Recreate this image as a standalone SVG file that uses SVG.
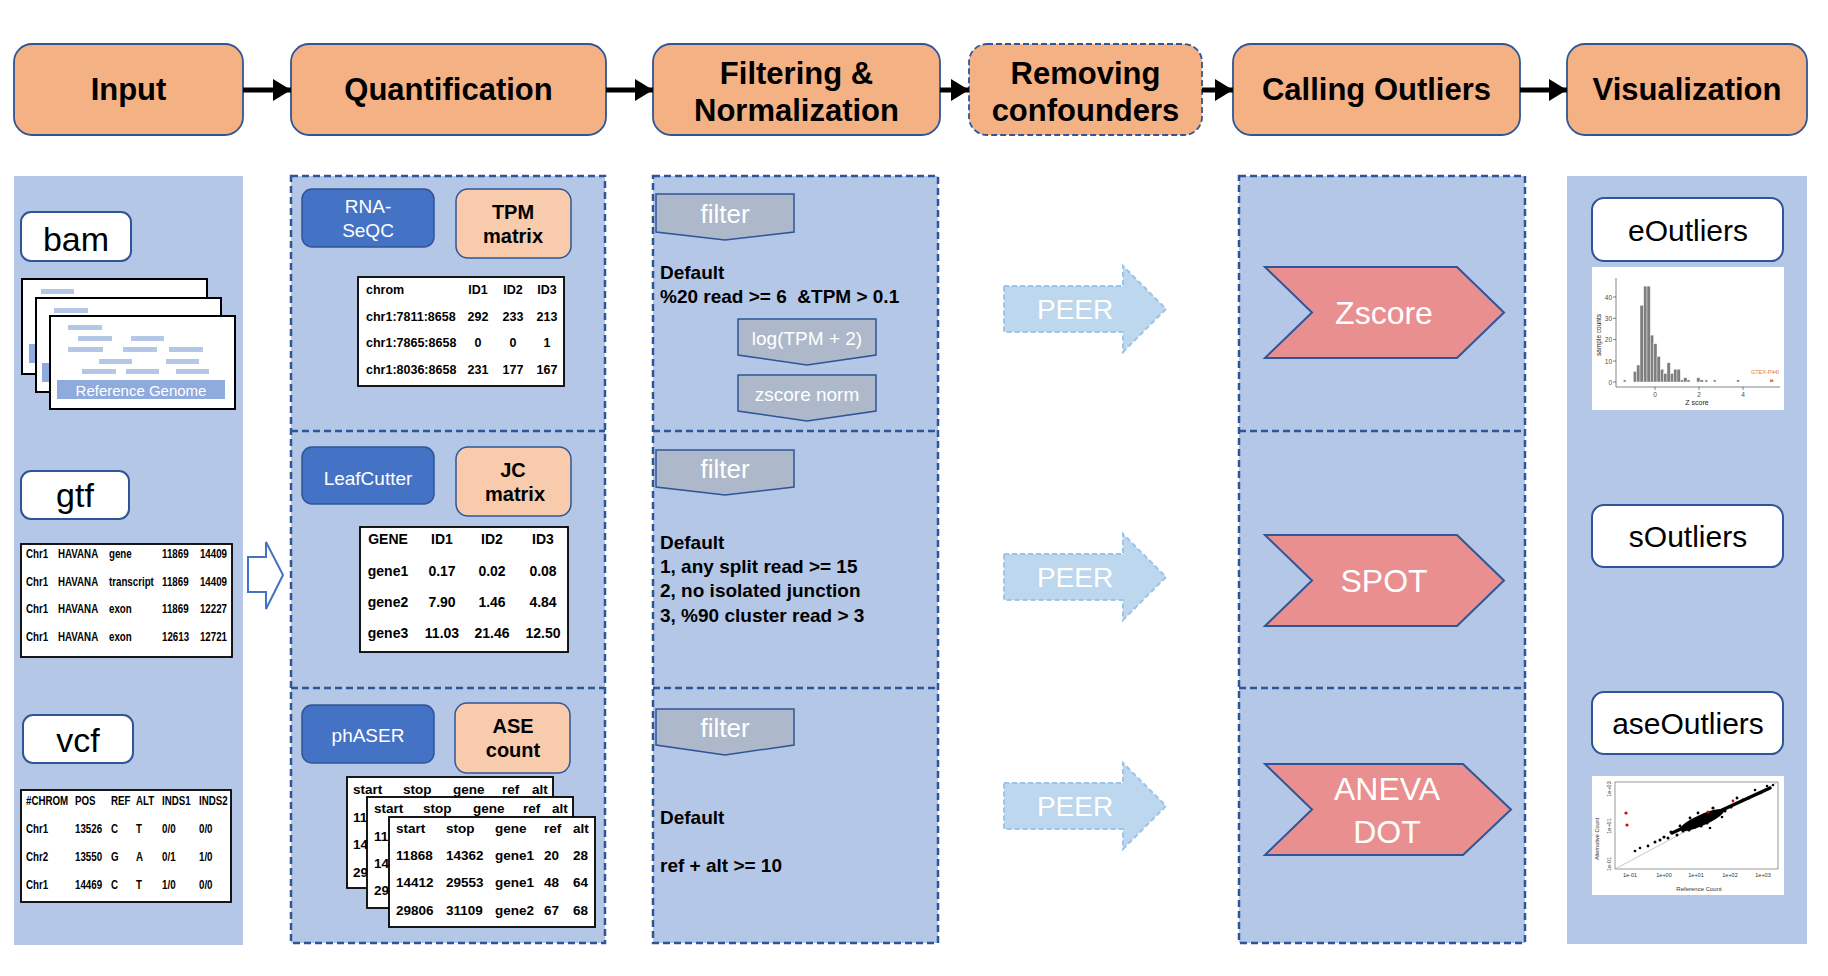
<svg xmlns="http://www.w3.org/2000/svg" width="1828" height="976" viewBox="0 0 1828 976">
<style>
  text { font-family: "Liberation Sans", Arial, sans-serif; }
  .hdr { fill: #F4B183; stroke: #2F5597; stroke-width: 1.8; }
  .hdrt { font-size: 31px; font-weight: bold; fill: #000; text-anchor: middle; }
  .bg { fill: #B4C7E7; }
  .dash { fill: #B4C7E7; stroke: #2F5597; stroke-width: 2.5; stroke-dasharray: 7 4; }
  .dl { stroke: #2F5597; stroke-width: 2.5; stroke-dasharray: 7 4; fill: none; }
  .lbl { fill: #fff; stroke: #2F5597; stroke-width: 2; }
  .lblt { font-size: 34px; fill: #000; text-anchor: middle; }
  .vlt { font-size: 30px; fill: #000; text-anchor: middle; }
  .sheet { fill: #fff; stroke: #000; stroke-width: 2; }
  .bar { fill: #B4C7E7; }
  .tbl { fill: #fff; stroke: #000; stroke-width: 1.8; }
  .tt { font-weight: bold; fill: #000; }
  .tool { fill: #4472C4; stroke: #2F5597; stroke-width: 1.5; }
  .toolt { font-size: 19px; fill: #fff; text-anchor: middle; }
  .mat { fill: #F8CBAD; stroke: #2F5597; stroke-width: 1.5; }
  .matt { font-size: 20px; font-weight: bold; fill: #000; text-anchor: middle; }
  .flt { fill: #ADB9CA; stroke: #2F5597; stroke-width: 1.5; }
  .fltt { fill: #fff; text-anchor: middle; }
  .def { font-size: 19px; font-weight: bold; fill: #000; }
  .peer { fill: #BDD7EE; stroke: #9DC3E6; stroke-width: 2; stroke-dasharray: 5 3; }
  .peert { font-size: 28px; fill: #fff; text-anchor: middle; }
  .chev { fill: #EA8F8F; stroke: #2F5597; stroke-width: 2; }
  .chevt { font-size: 32px; fill: #fff; text-anchor: middle; }
  .hb { fill: #7F7F7F; stroke: #fff; stroke-width: 0.4; }
  .ax { stroke: #333; stroke-width: 0.6; fill: none; }
  .tk { font-size: 6.5px; fill: #4D4D4D; }
  .dot { fill: #000; }
  .arr { stroke: #000; stroke-width: 5; fill: none; }
</style>
<defs>
  <marker id="ah" markerUnits="userSpaceOnUse" markerWidth="18" markerHeight="22" refX="18" refY="11" orient="auto">
    <path d="M0,0 L18,11 L0,22 Z" fill="#000"/>
  </marker>
</defs>

<!-- Header nodes -->
<g id="hdr-input">
  <rect class="hdr" x="14" y="44" width="229" height="91" rx="18"/>
  <text class="hdrt" x="128.5" y="100">Input</text>
</g>
<g id="hdr-quant">
  <rect class="hdr" x="291" y="44" width="315" height="91" rx="18"/>
  <text class="hdrt" x="448.5" y="100">Quantification</text>
</g>
<g id="hdr-filter">
  <rect class="hdr" x="653" y="44" width="287" height="91" rx="18"/>
  <text class="hdrt" x="796.5" y="84">Filtering &amp;</text>
  <text class="hdrt" x="796.5" y="121">Normalization</text>
</g>
<g id="hdr-remove">
  <rect class="hdr" x="969" y="44" width="233" height="91" rx="18" stroke-dasharray="6 3"/>
  <text class="hdrt" x="1085.5" y="84">Removing</text>
  <text class="hdrt" x="1085.5" y="121">confounders</text>
</g>
<g id="hdr-calling">
  <rect class="hdr" x="1233" y="44" width="287" height="91" rx="18"/>
  <text class="hdrt" x="1376.5" y="100">Calling Outliers</text>
</g>
<g id="hdr-vis">
  <rect class="hdr" x="1567" y="44" width="240" height="91" rx="18"/>
  <text class="hdrt" x="1687" y="100">Visualization</text>
</g>

<!-- Connectors -->
<g id="connectors">
  <line class="arr" x1="243" y1="90" x2="291" y2="90" marker-end="url(#ah)"/>
  <line class="arr" x1="606" y1="90" x2="653" y2="90" marker-end="url(#ah)"/>
  <line class="arr" x1="940" y1="90" x2="969" y2="90" marker-end="url(#ah)"/>
  <line class="arr" x1="1202" y1="90" x2="1233" y2="90" marker-end="url(#ah)"/>
  <line class="arr" x1="1520" y1="90" x2="1567" y2="90" marker-end="url(#ah)"/>
  <path d="M248,557 H266 V542 L283,575 L266,609 V592 H248 Z" fill="#fff" stroke="#4472C4" stroke-width="2"/>
</g>

<!-- Input column -->
<g id="col-input">
  <rect class="bg" x="14" y="176" width="229" height="769"/>
  <g id="bam">
    <rect class="lbl" x="21" y="212" width="110" height="49" rx="10"/>
    <text class="lblt" x="76" y="251">bam</text>
    <rect class="sheet" x="22" y="279" width="185" height="95"/>
    <rect class="bar" x="41" y="289" width="33" height="5"/>
    <rect fill="#8FAADC" x="29" y="344" width="170" height="19"/>
    <rect class="sheet" x="36" y="298" width="185" height="94"/>
    <rect class="bar" x="54" y="308" width="34" height="5"/>
    <rect fill="#8FAADC" x="42" y="363" width="170" height="19"/>
    <rect class="sheet" x="50" y="316" width="185" height="93"/>
    <rect class="bar" x="68" y="325" width="34" height="5"/>
    <rect class="bar" x="78" y="336" width="34" height="5"/>
    <rect class="bar" x="131" y="336" width="33" height="5"/>
    <rect class="bar" x="68" y="347" width="35" height="5"/>
    <rect class="bar" x="123" y="347" width="34" height="5"/>
    <rect class="bar" x="169" y="347" width="34" height="5"/>
    <rect class="bar" x="99" y="359" width="33" height="5"/>
    <rect class="bar" x="166" y="359" width="33" height="5"/>
    <rect class="bar" x="82" y="369" width="34" height="5"/>
    <rect class="bar" x="126" y="369" width="33" height="5"/>
    <rect class="bar" x="176" y="369" width="33" height="5"/>
    <rect fill="#8FAADC" x="57" y="380" width="168" height="19"/>
    <text x="141" y="396" font-size="15" fill="#fff" text-anchor="middle">Reference Genome</text>
  </g>
  <g id="gtf">
    <rect class="lbl" x="21" y="471" width="108" height="48" rx="10"/>
    <text class="lblt" x="75" y="507">gtf</text>
    <rect class="tbl" x="21" y="544" width="211" height="113"/>
    <g transform="translate(26,0) scale(0.78,1)" class="tt" font-size="12.5">
      <text x="0" y="558">Chr1</text><text x="41" y="558">HAVANA</text><text x="106.4" y="558">gene</text><text x="174.4" y="558">11869</text><text x="223" y="558">14409</text>
      <text x="0" y="586">Chr1</text><text x="41" y="586">HAVANA</text><text x="106.4" y="586">transcript</text><text x="174.4" y="586">11869</text><text x="223" y="586">14409</text>
      <text x="0" y="613">Chr1</text><text x="41" y="613">HAVANA</text><text x="106.4" y="613">exon</text><text x="174.4" y="613">11869</text><text x="223" y="613">12227</text>
      <text x="0" y="641">Chr1</text><text x="41" y="641">HAVANA</text><text x="106.4" y="641">exon</text><text x="174.4" y="641">12613</text><text x="223" y="641">12721</text>
    </g>
  </g>
  <g id="vcf">
    <rect class="lbl" x="23" y="715" width="110" height="48" rx="10"/>
    <text class="lblt" x="78" y="752">vcf</text>
    <rect class="tbl" x="21" y="790" width="210" height="112"/>
    <g transform="translate(26,0) scale(0.78,1)" class="tt" font-size="12.5">
      <text x="0" y="805">#CHROM</text><text x="62.8" y="805">POS</text><text x="109" y="805">REF</text><text x="141" y="805">ALT</text><text x="174.4" y="805">INDS1</text><text x="221.8" y="805">INDS2</text>
      <text x="0" y="833">Chr1</text><text x="62.8" y="833">13526</text><text x="109" y="833">C</text><text x="141" y="833">T</text><text x="174.4" y="833">0/0</text><text x="221.8" y="833">0/0</text>
      <text x="0" y="861">Chr2</text><text x="62.8" y="861">13550</text><text x="109" y="861">G</text><text x="141" y="861">A</text><text x="174.4" y="861">0/1</text><text x="221.8" y="861">1/0</text>
      <text x="0" y="889">Chr1</text><text x="62.8" y="889">14469</text><text x="109" y="889">C</text><text x="141" y="889">T</text><text x="174.4" y="889">1/0</text><text x="221.8" y="889">0/0</text>
    </g>
  </g>
</g>

<!-- Quantification column -->
<g id="col-quant">
  <rect class="dash" x="291" y="176" width="314" height="767"/>
  <line class="dl" x1="291" y1="431" x2="605" y2="431"/>
  <line class="dl" x1="291" y1="688" x2="605" y2="688"/>
  <g id="rnaseqc">
    <rect class="tool" x="302" y="189" width="132" height="58" rx="10"/>
    <text class="toolt" x="368" y="213">RNA-</text>
    <text class="toolt" x="368" y="237">SeQC</text>
  </g>
  <g id="tpm">
    <rect class="mat" x="456" y="189" width="115" height="69" rx="12"/>
    <text class="matt" x="513" y="219">TPM</text>
    <text class="matt" x="513" y="243">matrix</text>
  </g>
  <g id="tpm-table" class="tt" font-size="12.5">
    <rect class="tbl" x="358" y="277" width="206" height="109"/>
    <text x="366" y="294">chrom</text>
    <g text-anchor="middle">
      <text x="478" y="294">ID1</text><text x="513" y="294">ID2</text><text x="547" y="294">ID3</text>
      <text x="478" y="321">292</text><text x="513" y="321">233</text><text x="547" y="321">213</text>
      <text x="478" y="347">0</text><text x="513" y="347">0</text><text x="547" y="347">1</text>
      <text x="478" y="374">231</text><text x="513" y="374">177</text><text x="547" y="374">167</text>
    </g>
    <text x="366" y="321">chr1:7811:8658</text>
    <text x="366" y="347">chr1:7865:8658</text>
    <text x="366" y="374">chr1:8036:8658</text>
  </g>
  <g id="leafcutter">
    <rect class="tool" x="302" y="447" width="132" height="57" rx="10"/>
    <text class="toolt" x="368" y="485">LeafCutter</text>
  </g>
  <g id="jc">
    <rect class="mat" x="456" y="447" width="115" height="69" rx="12"/>
    <text class="matt" x="513" y="477">JC</text>
    <text class="matt" x="515" y="501">matrix</text>
  </g>
  <g id="jc-table" class="tt" font-size="14" text-anchor="middle">
    <rect class="tbl" x="360" y="527" width="208" height="125"/>
    <text x="388" y="544">GENE</text><text x="442" y="544">ID1</text><text x="492" y="544">ID2</text><text x="543" y="544">ID3</text>
    <text x="388" y="576">gene1</text><text x="442" y="576">0.17</text><text x="492" y="576">0.02</text><text x="543" y="576">0.08</text>
    <text x="388" y="607">gene2</text><text x="442" y="607">7.90</text><text x="492" y="607">1.46</text><text x="543" y="607">4.84</text>
    <text x="388" y="638">gene3</text><text x="442" y="638">11.03</text><text x="492" y="638">21.46</text><text x="543" y="638">12.50</text>
  </g>
  <g id="phaser">
    <rect class="tool" x="302" y="705" width="132" height="58" rx="10"/>
    <text class="toolt" x="368" y="742">phASER</text>
  </g>
  <g id="ase">
    <rect class="mat" x="455" y="703" width="115" height="70" rx="12"/>
    <text class="matt" x="513" y="733">ASE</text>
    <text class="matt" x="513" y="757">count</text>
  </g>
  <g id="ase-tables" class="tt" font-size="13.5">
    <rect class="tbl" x="347" y="777" width="206" height="111"/>
    <text x="353" y="794">start</text><text x="403" y="794">stop</text><text x="453" y="794">gene</text><text x="502" y="794">ref</text><text x="532" y="794">alt</text>
    <text x="353" y="822">11</text><text x="353" y="849">14</text><text x="353" y="877">29</text>
    <rect class="tbl" x="367" y="797" width="206" height="111"/>
    <text x="374" y="813">start</text><text x="423" y="813">stop</text><text x="473" y="813">gene</text><text x="523" y="813">ref</text><text x="552" y="813">alt</text>
    <text x="374" y="841">11</text><text x="374" y="868">14</text><text x="374" y="895">29</text>
    <rect class="tbl" x="389" y="817" width="206" height="110"/>
    <text x="396" y="833">start</text><text x="446" y="833">stop</text><text x="495" y="833">gene</text><text x="544" y="833">ref</text><text x="573" y="833">alt</text>
    <text x="396" y="860">11868</text><text x="446" y="860">14362</text><text x="495" y="860">gene1</text><text x="544" y="860">20</text><text x="573" y="860">28</text>
    <text x="396" y="887">14412</text><text x="446" y="887">29553</text><text x="495" y="887">gene1</text><text x="544" y="887">48</text><text x="573" y="887">64</text>
    <text x="396" y="915">29806</text><text x="446" y="915">31109</text><text x="495" y="915">gene2</text><text x="544" y="915">67</text><text x="573" y="915">68</text>
  </g>
</g>

<!-- Filtering column -->
<g id="col-filter">
  <rect class="dash" x="653" y="176" width="285" height="767"/>
  <line class="dl" x1="653" y1="431" x2="938" y2="431"/>
  <line class="dl" x1="653" y1="688" x2="938" y2="688"/>
  <g id="filter1">
    <path class="flt" d="M656,194 H794 V232 L725,240 L656,232 Z"/>
    <text class="fltt" x="725" y="223" font-size="26">filter</text>
  </g>
  <g id="default1">
    <text class="def" x="660" y="279">Default</text>
    <text class="def" x="660" y="303" xml:space="preserve">%20 read &gt;= 6  &amp;TPM &gt; 0.1</text>
  </g>
  <g id="logtpm">
    <path class="flt" d="M738,319 H876 V355 L807,365 L738,355 Z"/>
    <text class="fltt" x="807" y="345" font-size="19">log(TPM + 2)</text>
  </g>
  <g id="zscorenorm">
    <path class="flt" d="M738,375 H876 V411 L807,421 L738,411 Z"/>
    <text class="fltt" x="807" y="401" font-size="19">zscore norm</text>
  </g>
  <g id="filter2">
    <path class="flt" d="M656,450 H794 V487 L725,495 L656,487 Z"/>
    <text class="fltt" x="725" y="478" font-size="26">filter</text>
  </g>
  <g id="default2">
    <text class="def" x="660" y="549">Default</text>
    <text class="def" x="660" y="573">1, any split read &gt;= 15</text>
    <text class="def" x="660" y="597">2, no isolated junction</text>
    <text class="def" x="660" y="622">3, %90 cluster read &gt; 3</text>
  </g>
  <g id="filter3">
    <path class="flt" d="M656,709 H794 V745 L725,755 L656,745 Z"/>
    <text class="fltt" x="725" y="737" font-size="26">filter</text>
  </g>
  <g id="default3">
    <text class="def" x="660" y="824">Default</text>
    <text class="def" x="660" y="872">ref + alt &gt;= 10</text>
  </g>
</g>

<!-- PEER arrows -->
<g id="peer1">
  <path class="peer" d="M1004,286 H1123 V266 L1166,309 L1123,352 V332 H1004 Z"/>
  <text class="peert" x="1075" y="319">PEER</text>
</g>
<g id="peer2">
  <path class="peer" d="M1004,554 H1123 V534 L1166,577 L1123,620 V600 H1004 Z"/>
  <text class="peert" x="1075" y="587">PEER</text>
</g>
<g id="peer3">
  <path class="peer" d="M1004,783 H1123 V763 L1166,806 L1123,849 V829 H1004 Z"/>
  <text class="peert" x="1075" y="816">PEER</text>
</g>

<!-- Calling outliers column -->
<g id="col-calling">
  <rect class="dash" x="1239" y="176" width="286" height="767"/>
  <line class="dl" x1="1239" y1="431" x2="1525" y2="431"/>
  <line class="dl" x1="1239" y1="688" x2="1525" y2="688"/>
  <g id="zscore">
    <path class="chev" d="M1265,267 H1457 L1504,312.5 L1457,358 H1265 L1312,312.5 Z"/>
    <text class="chevt" x="1384" y="324">Zscore</text>
  </g>
  <g id="spot">
    <path class="chev" d="M1265,535 H1457 L1504,580.5 L1457,626 H1265 L1312,580.5 Z"/>
    <text class="chevt" x="1384" y="592">SPOT</text>
  </g>
  <g id="aneva">
    <path class="chev" d="M1265,764 H1463 L1511,809.5 L1463,855 H1265 L1312,809.5 Z"/>
    <text class="chevt" x="1387" y="800">ANEVA</text>
    <text class="chevt" x="1387" y="843">DOT</text>
  </g>
</g>

<!-- Visualization column -->
<g id="col-vis">
  <rect class="bg" x="1567" y="176" width="240" height="768"/>
  <g id="eoutliers">
    <rect class="lbl" x="1592" y="198" width="191" height="63" rx="12"/>
    <text class="vlt" x="1688" y="241">eOutliers</text>
  </g>
  <g id="hist">
    <rect x="1592" y="267" width="192" height="143" fill="#fff"/>
    <path class="ax" d="M1616,278 V387 H1780"/>
    <path class="ax" d="M1613,382 H1616 M1613,361 H1616 M1613,339.6 H1616 M1613,318.3 H1616 M1613,297 H1616 M1655,387 V390 M1699,387 V390 M1743,387 V390"/>
    <g class="tk" text-anchor="end">
      <text x="1612" y="384.5">0</text><text x="1612" y="363.5">10</text><text x="1612" y="342">20</text><text x="1612" y="320.8">30</text><text x="1612" y="299.5">40</text>
    </g>
    <g class="tk" text-anchor="middle">
      <text x="1655" y="396.5">0</text><text x="1699" y="396.5">2</text><text x="1743" y="396.5">4</text>
    </g>
    <text x="1697" y="405" font-size="7" fill="#222" text-anchor="middle">Z score</text>
    <text transform="translate(1601,335) rotate(-90)" font-size="6.5" fill="#222" text-anchor="middle">sample counts</text>
    <rect class="hb" x="1623.3" y="379.9" width="2.7" height="2.1"/>
    <rect class="hb" x="1633.3" y="371.4" width="3.4" height="10.6"/>
    <rect class="hb" x="1636.7" y="365" width="3.3" height="17"/>
    <rect class="hb" x="1640" y="305.3" width="3.7" height="76.7"/>
    <rect class="hb" x="1643.7" y="286.1" width="3.3" height="95.9"/>
    <rect class="hb" x="1647" y="286.1" width="3.3" height="95.9"/>
    <rect class="hb" x="1650.3" y="335.1" width="3.4" height="46.9"/>
    <rect class="hb" x="1653.7" y="343.7" width="3.3" height="38.3"/>
    <rect class="hb" x="1657" y="356.4" width="3.3" height="25.6"/>
    <rect class="hb" x="1660.3" y="369.2" width="3.4" height="12.8"/>
    <rect class="hb" x="1663.7" y="373.5" width="3.3" height="8.5"/>
    <rect class="hb" x="1667" y="362.8" width="3.3" height="19.2"/>
    <rect class="hb" x="1670.3" y="373.5" width="3.4" height="8.5"/>
    <rect class="hb" x="1673.7" y="369.2" width="3.3" height="12.8"/>
    <rect class="hb" x="1677" y="369.2" width="3.3" height="12.8"/>
    <rect class="hb" x="1680.3" y="379.9" width="3.4" height="2.1"/>
    <rect class="hb" x="1683.7" y="377.7" width="3.3" height="4.3"/>
    <rect class="hb" x="1687" y="379.9" width="3" height="2.1"/>
    <rect class="hb" x="1696.7" y="377.7" width="3.3" height="4.3"/>
    <rect class="hb" x="1700" y="379.9" width="3.3" height="2.1"/>
    <rect class="hb" x="1705" y="379.9" width="2.5" height="2.1"/>
    <rect class="hb" x="1713.3" y="379.9" width="2.7" height="2.1"/>
    <rect class="hb" x="1736.7" y="379.9" width="2.7" height="2.1"/>
    <rect x="1770" y="379.5" width="3.3" height="2.5" fill="#E07B39"/>
    <text x="1765" y="374" font-size="5.5" fill="#E07B39" text-anchor="middle">GTEX-P44I</text>
  </g>
  <g id="soutliers">
    <rect class="lbl" x="1592" y="505" width="191" height="62" rx="12"/>
    <text class="vlt" x="1688" y="547">sOutliers</text>
  </g>
  <g id="aseoutliers">
    <rect class="lbl" x="1592" y="692" width="191" height="62" rx="12"/>
    <text class="vlt" x="1688" y="734">aseOutliers</text>
  </g>
  <g id="scatter">
    <rect x="1592" y="776" width="192" height="119" fill="#fff"/>
    <rect x="1615" y="782" width="163" height="87" fill="none" stroke="#555" stroke-width="0.6"/>
    <line x1="1615" y1="869" x2="1778" y2="782" stroke="#BBB" stroke-width="0.8"/>
    <g fill="#333" font-size="5.5" text-anchor="middle">
      <text x="1630" y="877">1e-01</text><text x="1664" y="877">1e+00</text><text x="1696" y="877">1e+01</text><text x="1730" y="877">1e+02</text><text x="1763" y="877">1e+03</text>
      <text transform="translate(1611,789) rotate(-90)">1e+03</text>
      <text transform="translate(1611,826) rotate(-90)">1e+01</text>
      <text transform="translate(1611,864) rotate(-90)">1e-01</text>
      <text x="1699" y="891" font-size="6">Reference Count</text>
      <text transform="translate(1599,839) rotate(-90)">Alternative Count</text>
    </g>
    <ellipse class="dot" cx="1702" cy="820" rx="24" ry="5.5" transform="rotate(-24 1702 820)"/>
    <line x1="1672" y1="833" x2="1770" y2="788" stroke="#000" stroke-width="3.5" stroke-linecap="round"/>
    <g class="dot">
      <circle cx="1635" cy="851" r="1.3"/><circle cx="1640" cy="848" r="1.3"/><circle cx="1648" cy="846" r="1.4"/>
      <circle cx="1655" cy="842" r="1.5"/><circle cx="1660" cy="840" r="1.5"/><circle cx="1664" cy="837" r="1.6"/>
      <circle cx="1668" cy="838" r="1.5"/><circle cx="1671" cy="832" r="1.6"/><circle cx="1677" cy="835" r="1.5"/>
      <circle cx="1683" cy="831" r="1.6"/><circle cx="1689" cy="830" r="1.6"/><circle cx="1695" cy="827" r="1.6"/>
      <circle cx="1701" cy="826" r="1.6"/><circle cx="1707" cy="823" r="1.6"/><circle cx="1713" cy="808" r="1.6"/>
      <circle cx="1719" cy="813" r="1.6"/><circle cx="1725" cy="811" r="1.6"/><circle cx="1731" cy="807" r="1.6"/>
      <circle cx="1737" cy="798" r="1.4"/><circle cx="1743" cy="800" r="1.4"/><circle cx="1749" cy="798" r="1.4"/>
      <circle cx="1755" cy="790" r="1.3"/><circle cx="1761" cy="793" r="1.3"/><circle cx="1767" cy="786" r="1.3"/>
      <circle cx="1773" cy="785" r="1.2"/><circle cx="1690" cy="818" r="1.4"/><circle cx="1698" cy="813" r="1.4"/>
      <circle cx="1680" cy="826" r="1.4"/><circle cx="1710" cy="828" r="1.3"/><circle cx="1722" cy="817" r="1.3"/>
    </g>
    <g fill="#E00000">
      <circle cx="1626" cy="813" r="1.6"/><circle cx="1627" cy="825" r="1.6"/><circle cx="1708" cy="812" r="1.6"/><circle cx="1733" cy="801" r="1.4"/>
    </g>
  </g>
</g>
</svg>
